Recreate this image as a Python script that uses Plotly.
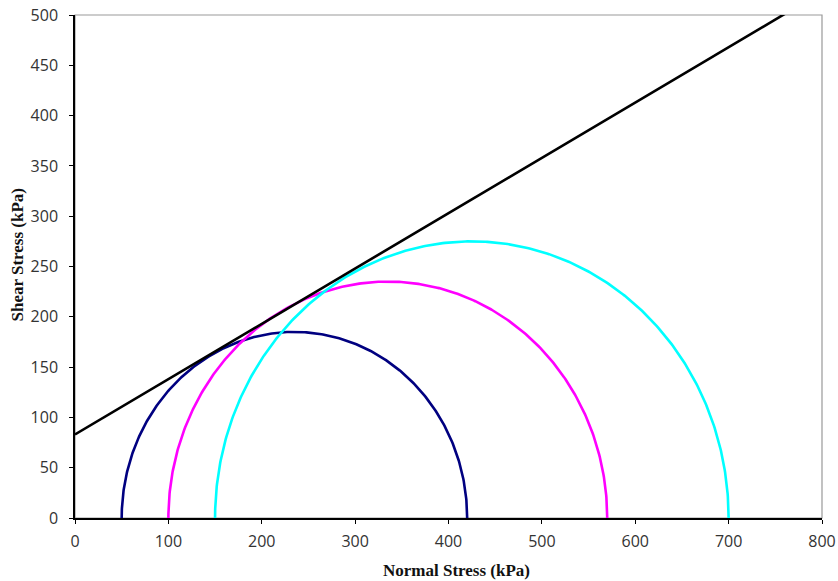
import numpy as np
import plotly.graph_objects as go

# Triaxial test results (kPa)
sigma3 = [50, 100, 150]          # minor principal stress
sigma1 = [420, 570, 700]         # major principal stress
circle_colors = ["#000080", "#FF00FF", "#00FFFF"]

# Mohr-Coulomb failure envelope: tau = c + sigma * tan(phi)
cohesion = 83
tan_phi = 0.55
envelope_x = [0, 800]

x_title = "Normal Stress (kPa)"
y_title = "Shear Stress (kPa)"

fig = go.Figure()

theta = np.linspace(0, np.pi, 361)
for s3, s1, col in zip(sigma3, sigma1, circle_colors):
    center = (s1 + s3) / 2
    radius = (s1 - s3) / 2
    fig.add_trace(go.Scatter(
        x=center + radius * np.cos(theta),
        y=radius * np.sin(theta),
        mode="lines",
        line=dict(color=col, width=2.6),
        hoverinfo="skip",
    ))

fig.add_trace(go.Scatter(
    x=envelope_x,
    y=[cohesion + tan_phi * x for x in envelope_x],
    mode="lines",
    line=dict(color="black", width=2.6),
    hoverinfo="skip",
))

tick_font = dict(family="Open Sans", size=16, color="#333")
title_font = dict(family="Liberation Serif", size=17, color="#111")

L, R, T, B = 75, 16, 15, 63
plot_w = 838 - L - R
plot_h = 581 - T - B

fig.update_layout(
    width=838, height=581,
    margin=dict(l=L, r=R, t=T, b=B),
    paper_bgcolor="white",
    plot_bgcolor="white",
    showlegend=False,
    xaxis=dict(
        range=[0, 800], dtick=100, showgrid=False, zeroline=False,
        showline=True, linecolor="black", linewidth=1.5,
        ticks="outside", ticklen=4, tickcolor="black",
        tickfont=tick_font, automargin=False, ticklabelstandoff=4,
    ),
    yaxis=dict(
        range=[0, 500], dtick=50, showgrid=False, zeroline=False,
        showline=True, linecolor="black", linewidth=1.5,
        ticks="outside", ticklen=4, tickcolor="black",
        tickfont=tick_font, automargin=False, ticklabelstandoff=8,
    ),
    shapes=[dict(
        type="rect", xref="paper", yref="paper", x0=0, y0=0, x1=1, y1=1,
        line=dict(color="#999999", width=1.2), layer="below",
    )],
    annotations=[
        dict(text="<b>" + x_title + "</b>", xref="paper", yref="paper",
             x=(456 - L) / plot_w, y=-(570 - (T + plot_h)) / plot_h,
             xanchor="center", yanchor="middle", showarrow=False, font=title_font),
        dict(text="<b>" + y_title + "</b>", xref="paper", yref="paper",
             x=-(L - 17) / plot_w, y=(T + plot_h - 254.5) / plot_h,
             xanchor="center", yanchor="middle", showarrow=False,
             textangle=-90, font=title_font),
    ],
)

fig.write_html("out.html")
